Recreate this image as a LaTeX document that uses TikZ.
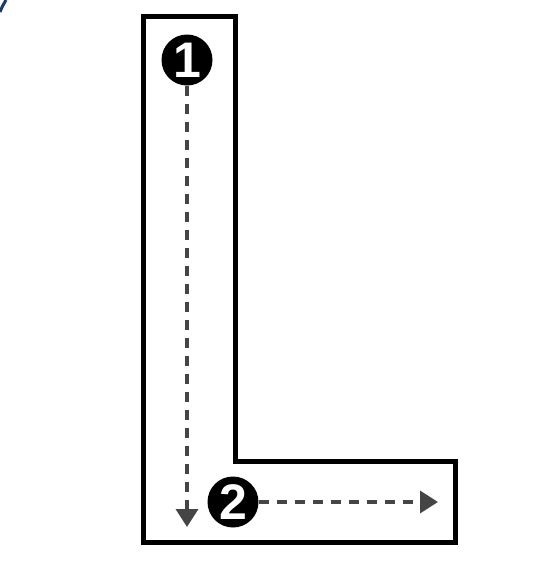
\documentclass[tikz,border=0pt]{standalone}
\usepackage{fontspec}
\setsansfont{Liberation Sans}
\usetikzlibrary{arrows.meta}
\definecolor{cornerblue}{HTML}{1A3A6B}
\definecolor{flowgray}{HTML}{454545}
\begin{document}
\begin{tikzpicture}[x=1pt,y=-1pt,
  lshape/.style={draw=black,line width=5pt,line join=miter},
  badge/.style={circle,fill=black,text=white,minimum size=51pt,inner sep=0pt,
    font=\sffamily\bfseries\fontsize{50}{50}\selectfont},
  flow/.style={draw=flowgray,line width=3.5pt,dash pattern=on 10pt off 8pt,
    -{Triangle[length=18pt,width=22pt]}}]
\useasboundingbox (0,0) rectangle (548,568);
\draw[cornerblue,line width=3pt] (0,12) .. controls (2,7) .. (6,0);
\draw[lshape] (143,16) -- (235,16) -- (235,461) -- (455,461) -- (455,542) -- (143,542) -- cycle;
\node[badge] (n1) at (187,60) {1};
\node[badge] (n2) at (233,502) {2};
\coordinate (e1) at (187,527);
\coordinate (e2) at (438,502);
\draw[flow] (n1.south) -- (e1);
\draw[flow] (n2.east) -- (e2);
\end{tikzpicture}
\end{document}
